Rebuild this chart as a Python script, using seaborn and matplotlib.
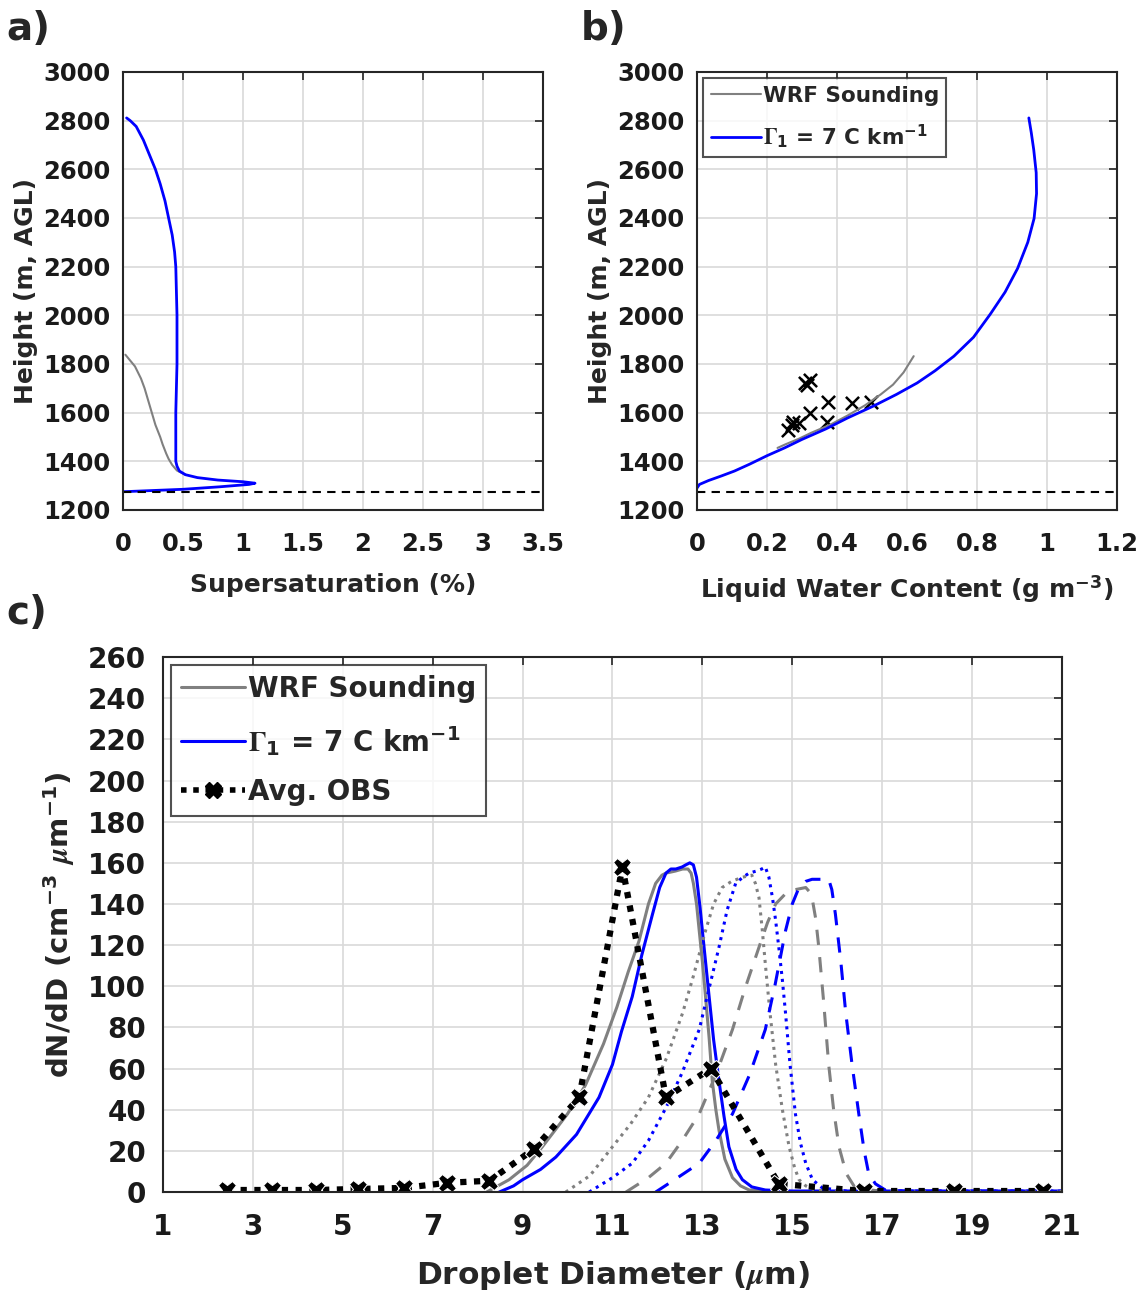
import numpy as np
import pandas as pd
import matplotlib
matplotlib.use("Agg")
import matplotlib.pyplot as plt
import seaborn as sns
from matplotlib.lines import Line2D

# ---- panel a: supersaturation profiles ----
ss_h_blue = [1275, 1280, 1285, 1295, 1305, 1310, 1316, 1323, 1333, 1345, 1360, 1380, 1400, 1600,
             1800, 2000, 2200, 2260, 2330, 2400, 2470, 2540, 2600, 2660, 2720, 2776, 2800, 2811]
ss_blue = [0.0, 0.25, 0.5, 0.8, 1.05, 1.1, 1.0, 0.79, 0.62, 0.52, 0.47, 0.45, 0.44, 0.44,
           0.45, 0.45, 0.44, 0.43, 0.41, 0.38, 0.35, 0.31, 0.27, 0.22, 0.17, 0.11, 0.06, 0.03]
ss_h_gray = [1345, 1362, 1385, 1410, 1432, 1470, 1500, 1550, 1600, 1650, 1700, 1740, 1790, 1820, 1838]
ss_gray = [0.52, 0.45, 0.41, 0.38, 0.36, 0.33, 0.31, 0.27, 0.24, 0.21, 0.18, 0.15, 0.1, 0.05, 0.02]

cloud_base = 1275

# ---- panel b: liquid water content ----
lwc_h_blue = [1290, 1305, 1321, 1340, 1360, 1388, 1423, 1455, 1490, 1533, 1578, 1627, 1675, 1722,
              1772, 1832, 1910, 2005, 2095, 2193, 2300, 2398, 2500, 2586, 2680, 2750, 2811]
lwc_blue = [0.0, 0.007, 0.033, 0.07, 0.107, 0.15, 0.2, 0.25, 0.3, 0.368, 0.43, 0.504, 0.57, 0.629,
            0.68, 0.734, 0.79, 0.838, 0.88, 0.916, 0.945, 0.963, 0.97, 0.969, 0.962, 0.955, 0.948]
lwc_h_gray = [1455, 1470, 1492, 1517, 1550, 1588, 1630, 1675, 1715, 1765, 1832]
lwc_gray = [0.23, 0.253, 0.29, 0.326, 0.38, 0.43, 0.48, 0.525, 0.56, 0.59, 0.619]
obs_lwc = [0.261, 0.27, 0.275, 0.29, 0.323, 0.309, 0.323, 0.314, 0.375, 0.37, 0.442, 0.496]
obs_h = [1529, 1549, 1563, 1559, 1597, 1721, 1734, 1713, 1642, 1563, 1638, 1642]

# ---- panel c: droplet size distributions (solid / dotted / dashed levels) ----
d_gray_solid = [8.2, 8.45, 8.7, 9.1, 9.44, 10.0, 10.4, 10.8, 11.1, 11.35, 11.59, 11.8, 11.96, 12.1,
                12.19, 12.4, 12.56, 12.68, 12.75, 12.8, 12.87, 12.93, 13.0, 13.07, 13.15, 13.22,
                13.3, 13.37, 13.5, 13.67, 13.85, 14.04, 15.0, 21.0]
n_gray_solid = [0, 3, 6, 13, 22, 38, 52, 72, 90, 107, 122, 140, 150, 154,
                155, 156, 157, 157, 155, 150, 140, 127, 112, 95, 75, 54,
                40, 30, 16, 7, 3, 1, 0.3, 0.3]
d_blue_solid = [8.48, 8.8, 9.0, 9.4, 9.74, 10.2, 10.7, 11.0, 11.2, 11.44, 11.65, 11.89, 12.05,
                12.19, 12.3, 12.41, 12.55, 12.63, 12.72, 12.8, 12.87, 12.95, 13.0, 13.15, 13.25,
                13.37, 13.48, 13.59, 13.75, 13.89, 14.1, 14.4, 15.0, 21.0]
n_blue_solid = [0, 3, 6, 11, 17, 28, 46, 62, 78, 95, 115, 135, 148,
                155, 157, 157, 158, 159, 160, 159, 153, 138, 127, 95, 74,
                54, 37, 22, 11, 6, 2.5, 1, 0.5, 0.5]
d_gray_dot = [9.96, 10.5, 11.0, 11.4, 11.8, 12.2, 12.56, 12.8, 13.07, 13.25, 13.44, 13.65, 13.89,
              14.1, 14.18, 14.26, 14.33, 14.4, 14.5, 14.63, 14.78, 14.93, 15.05, 15.15, 15.3,
              15.5, 16.0, 21.0]
n_gray_dot = [0, 8, 22, 33, 46, 65, 87, 105, 127, 140, 148, 151, 153,
              154, 150, 143, 128, 111, 88, 62, 40, 22, 12, 6, 3,
              1, 0.3, 0.3]
d_blue_dot = [10.48, 11.0, 11.44, 11.8, 12.19, 12.55, 12.93, 13.15, 13.37, 13.55, 13.74, 13.9,
              14.04, 14.2, 14.32, 14.4, 14.48, 14.56, 14.63, 14.7, 14.78, 14.85, 14.95, 15.07,
              15.18, 15.3, 15.45, 15.67, 16.2, 21.0]
n_blue_dot = [0, 7, 14, 25, 41, 58, 79, 99, 119, 137, 150, 153,
              155, 156, 157, 158, 153, 143, 132, 119, 103, 87, 62, 38,
              24, 14, 6, 2, 0.5, 0.5]
d_gray_dash = [11.3, 11.8, 12.19, 12.55, 12.93, 13.3, 13.67, 13.95, 14.26, 14.45, 14.63, 14.85,
               15.07, 15.3, 15.38, 15.44, 15.52, 15.59, 15.7, 15.81, 15.92, 16.04, 16.2, 16.4,
               17.0, 21.0]
n_gray_dash = [0, 7, 14, 25, 38, 57, 79, 99, 119, 131, 140, 145,
               147, 148, 146, 143, 133, 119, 92, 62, 40, 22, 9, 2,
               0.3, 0.3]
d_blue_dash = [11.96, 12.45, 12.93, 13.3, 13.67, 14.05, 14.4, 14.62, 14.85, 15.0, 15.15, 15.3,
               15.44, 15.6, 15.81, 15.88, 15.96, 16.08, 16.19, 16.33, 16.48, 16.6, 16.7, 16.85,
               17.07, 17.5, 21.0]
n_blue_dash = [0, 7, 14, 25, 38, 57, 79, 101, 127, 140, 148, 151,
               152, 152, 152, 147, 135, 112, 87, 62, 38, 20, 9, 4,
               1, 0.5, 0.5]
d_obs = [2.42, 3.42, 4.4, 5.34, 6.36, 7.32, 8.26, 9.26, 10.26, 11.22, 12.19, 13.19, 14.7,
         16.6, 18.6, 20.58]
n_obs = [1, 1, 1, 1.5, 2, 4.5, 5.5, 21, 46, 158, 46, 60, 4, 0.5, 0.5, 0.5]

BLUE = "#0000ff"
GRAY = "#808080"
GAMMA_LABEL = r"$\Gamma_{\mathregular{1}}$ = 7 C km$^{\mathregular{-1}}$"

sns.set_style("white")
plt.rcParams["font.family"] = ["DejaVu Sans"]
plt.rcParams["font.weight"] = "bold"
plt.rcParams["axes.labelweight"] = "bold"
plt.rcParams["mathtext.fontset"] = "stix"

fig = plt.figure(figsize=(11.43, 12.96), dpi=100)
ax_a = fig.add_axes([0.1076, 0.6065, 0.3675, 0.338])
ax_b = fig.add_axes([0.6098, 0.6065, 0.3675, 0.338])
ax_c = fig.add_axes([0.1426, 0.0802, 0.7865, 0.4128])


def matlab_style(ax, fs, xpad, ypad):
    ax.grid(True, color="#d9d9d9", lw=1.2)
    ax.set_axisbelow(True)
    for s in ax.spines.values():
        s.set_color("#262626")
        s.set_linewidth(1.5)
    ax.tick_params(direction="in", top=True, right=True, length=6, width=1.2,
                   labelsize=fs, colors="#262626", labelcolor="#1a1a1a")
    ax.tick_params(axis="x", pad=xpad)
    ax.tick_params(axis="y", pad=ypad)
    for lab in ax.get_xticklabels() + ax.get_yticklabels():
        lab.set_fontweight("bold")


def boxed_legend(ax, fs, spacing, **kw):
    leg = ax.legend(loc="upper left", fontsize=fs, frameon=True, fancybox=False,
                    edgecolor="#262626", handlelength=2.3, handletextpad=0.1,
                    borderpad=0.35, labelspacing=spacing, borderaxespad=0.3, **kw)
    leg.get_frame().set_linewidth(1.5)
    for t in leg.get_texts():
        t.set_fontweight("bold")
    return leg


# panel a
sns.lineplot(x=ss_gray, y=ss_h_gray, sort=False, estimator=None, color=GRAY, lw=1.5, ax=ax_a)
sns.lineplot(x=ss_blue, y=ss_h_blue, sort=False, estimator=None, color=BLUE, lw=2, ax=ax_a)
ax_a.axhline(cloud_base, color="black", ls=(0, (4, 3)), lw=1.5)
ax_a.set_xlim(0, 3.5)
ax_a.set_ylim(1200, 3000)
ax_a.set_xticks(np.arange(0, 3.51, 0.5))
ax_a.set_xticklabels(["0", "0.5", "1", "1.5", "2", "2.5", "3", "3.5"])
ax_a.set_yticks(np.arange(1200, 3001, 200))
ax_a.set_xlabel("Supersaturation (%)", fontsize=18, fontweight="bold", labelpad=12)
ax_a.set_ylabel("Height (m, AGL)", fontsize=18, fontweight="bold", labelpad=4)
matlab_style(ax_a, 17.5, 16, 9)

# panel b
sns.lineplot(x=lwc_gray, y=lwc_h_gray, sort=False, estimator=None, color=GRAY, lw=1.5, ax=ax_b,
             label="WRF Sounding")
sns.lineplot(x=lwc_blue, y=lwc_h_blue, sort=False, estimator=None, color=BLUE, lw=2, ax=ax_b,
             label=GAMMA_LABEL)
sns.scatterplot(x=obs_lwc, y=obs_h, marker="x", color="black", s=90, linewidth=1.8, ax=ax_b,
                legend=False)
ax_b.axhline(cloud_base, color="black", ls=(0, (4, 3)), lw=1.5)
ax_b.set_xlim(0, 1.2)
ax_b.set_ylim(1200, 3000)
ax_b.set_xticks(np.arange(0, 1.21, 0.2))
ax_b.set_xticklabels(["0", "0.2", "0.4", "0.6", "0.8", "1", "1.2"])
ax_b.set_yticks(np.arange(1200, 3001, 200))
ax_b.set_xlabel(r"Liquid Water Content (g m$^{\mathregular{-3}}$)", fontsize=18,
                fontweight="bold", labelpad=12)
ax_b.set_ylabel("Height (m, AGL)", fontsize=18, fontweight="bold", labelpad=4)
boxed_legend(ax_b, 15.5, 0.75)
matlab_style(ax_b, 17.5, 16, 9)

# panel c
styles = [
    (d_gray_solid, n_gray_solid, GRAY, "-"),
    (d_blue_solid, n_blue_solid, BLUE, "-"),
    (d_gray_dot, n_gray_dot, GRAY, (0, (1, 1.6))),
    (d_blue_dot, n_blue_dot, BLUE, (0, (1, 1.6))),
    (d_gray_dash, n_gray_dash, GRAY, (0, (5, 4))),
    (d_blue_dash, n_blue_dash, BLUE, (0, (5, 4))),
]
for d, n, c, ls in styles:
    sns.lineplot(x=d, y=n, sort=False, estimator=None, color=c, lw=2.2, ax=ax_c)
    ax_c.lines[-1].set_linestyle(ls)
obs_df = pd.DataFrame({"D": d_obs, "N": n_obs})
sns.lineplot(data=obs_df, x="D", y="N", sort=False, estimator=None, color="black", lw=4.5,
             ax=ax_c, marker="X", markersize=13)
ax_c.lines[-1].set_linestyle((0, (1, 1.2)))
ax_c.set_xlim(1, 21)
ax_c.set_ylim(0, 260)
ax_c.set_xticks(np.arange(1, 22, 2))
ax_c.set_yticks(np.arange(0, 261, 20))
ax_c.set_xlabel(r"Droplet Diameter ($\mu$m)", fontsize=22.5, fontweight="bold", labelpad=13)
ax_c.set_ylabel(r"dN/dD (cm$^{\mathregular{-3}}$ $\mu$m$^{\mathregular{-1}}$)", fontsize=21,
                fontweight="bold", labelpad=8)
handles = [
    Line2D([], [], color=GRAY, lw=2.2),
    Line2D([], [], color=BLUE, lw=2.2),
    Line2D([], [], color="black", lw=4, ls=(0, (1, 1.2)), marker="X", markersize=11),
]
boxed_legend(ax_c, 20, 0.75, handles=handles,
             labels=["WRF Sounding", GAMMA_LABEL, "Avg. OBS"])
matlab_style(ax_c, 20, 15, 12)

fig.text(0.006, 0.992, "a)", fontsize=28, fontweight="bold", va="top")
fig.text(0.508, 0.992, "b)", fontsize=28, fontweight="bold", va="top")
fig.text(0.006, 0.542, "c)", fontsize=28, fontweight="bold", va="top")

fig.savefig("out.png", dpi=100)
